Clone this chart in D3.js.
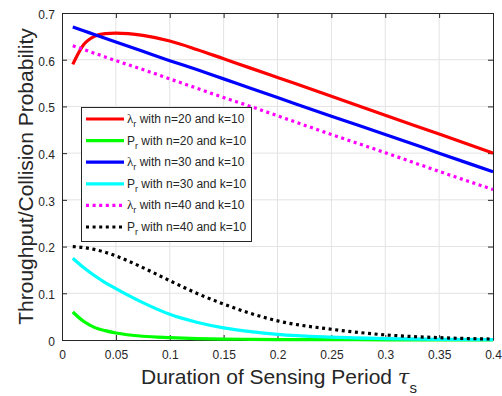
<!DOCTYPE html>
<html><head><meta charset="utf-8">
<script src="https://cdn.jsdelivr.net/npm/d3@7"></script>
<style>body{margin:0;background:#fff}svg{display:block}text{font-family:"Liberation Sans",Arial,sans-serif}</style>
</head><body><svg id="c" width="502" height="396"></svg>
<script>
const tauS = [0.01,0.02,0.03,0.04,0.05,0.075,0.1,0.125,0.15,0.175,0.2,0.25,0.3,0.35,0.4];
const lambdaN20 = [0.590,0.632,0.650,0.656,0.657,0.652,0.640,0.622,0.602,0.582,0.562,0.522,0.481,0.441,0.400];
const pN20 = [0.060,0.040,0.027,0.020,0.015,0.008,0.005,0.003,0.002,0.0015,0.001,0.0006,0.0004,0.0002,0.0001];
const lambdaN30 = [0.670,0.662,0.654,0.646,0.638,0.618,0.598,0.579,0.559,0.539,0.519,0.479,0.440,0.400,0.360];
const pN30 = [0.175,0.155,0.138,0.123,0.110,0.080,0.055,0.038,0.026,0.018,0.012,0.006,0.003,0.0015,0.001];
const lambdaN40 = [0.630,0.622,0.614,0.606,0.598,0.579,0.559,0.539,0.519,0.500,0.480,0.440,0.401,0.361,0.322];
const pN40 = [0.200,0.198,0.194,0.188,0.180,0.155,0.127,0.100,0.077,0.057,0.041,0.023,0.011,0.005,0.002];
const xTicks = [0,0.05,0.1,0.15,0.2,0.25,0.3,0.35,0.4];
const yTicks = [0,0.1,0.2,0.3,0.4,0.5,0.6,0.7];
const seriesNames = ["λ|r| with n=20 and k=10","P|r| with n=20 and k=10","λ|r| with n=30 and k=10","P|r| with n=30 and k=10","λ|r| with n=40 and k=10","P|r| with n=40 and k=10"];
const seriesColors = ["#ff0000","#00ff00","#0000ff","#00ffff","#ff00ff","#000000"];
const seriesDashed = [false,false,false,false,true,true];
const seriesData = [lambdaN20,pN20,lambdaN30,pN30,lambdaN40,pN40];

const svg = d3.select("#c");
const L=62,R=493,T=13,B=340;
const x = d3.scaleLinear().domain([0,0.4]).range([L,R]);
const y = d3.scaleLinear().domain([0,0.7]).range([B,T]);
const axc="#262626";

// grid
const g = svg.append("g");
g.selectAll(".gx").data(xTicks.slice(1,-1)).join("line").attr("x1",d=>x(d)).attr("x2",d=>x(d)).attr("y1",T).attr("y2",B).attr("stroke","#e3e3e3").attr("stroke-width",1);
g.selectAll(".gy").data(yTicks.slice(1,-1)).join("line").attr("y1",d=>y(d)).attr("y2",d=>y(d)).attr("x1",L).attr("x2",R).attr("stroke","#e3e3e3").attr("stroke-width",1);

// axes
const fmt = d=>d===0?"0":String(d);
const ax = svg.append("g").attr("transform",`translate(0,${B})`).call(d3.axisBottom(x).tickValues(xTicks).tickFormat(fmt).tickSizeInner(-5).tickSizeOuter(0).tickPadding(10));
const ay = svg.append("g").attr("transform",`translate(${L},0)`).call(d3.axisLeft(y).tickValues(yTicks).tickFormat(fmt).tickSizeInner(-5).tickSizeOuter(0).tickPadding(7));
const axT = svg.append("g").attr("transform",`translate(0,${T})`).call(d3.axisTop(x).tickValues(xTicks).tickFormat("").tickSizeInner(-5).tickSizeOuter(0));
const ayR = svg.append("g").attr("transform",`translate(${R},0)`).call(d3.axisRight(y).tickValues(yTicks).tickFormat("").tickSizeInner(-5).tickSizeOuter(0));
[ax,ay,axT,ayR].forEach(a=>{a.attr("font-size",12).attr("font-family","'Liberation Sans',Arial,sans-serif");a.selectAll("path").attr("stroke",axc);a.selectAll("line").attr("stroke",axc);a.selectAll("text").attr("fill",axc);});
ay.selectAll("text").attr("dy","0.45em");

// lines
const line = d3.line().x((d,i)=>x(tauS[i])).y(d=>y(d)).curve(d3.curveMonotoneX);
seriesData.forEach((s,i)=>{
  const p=svg.append("path").datum(s).attr("d",line).attr("fill","none").attr("stroke",seriesColors[i]).attr("stroke-width",3.2);
  if(seriesDashed[i]) p.attr("stroke-dasharray","3,3.6");
});

// legend
const lg = svg.append("g");
lg.append("rect").attr("x",81.5).attr("y",107.5).attr("width",170).attr("height",134).attr("fill","#fff").attr("stroke",axc).attr("stroke-width",1);
seriesNames.forEach((n,i)=>{
  const yy=119+i*21.6;
  const l=lg.append("line").attr("x1",86).attr("x2",124).attr("y1",yy).attr("y2",yy).attr("stroke",seriesColors[i]).attr("stroke-width",3.2);
  if(seriesDashed[i]) l.attr("stroke-dasharray","3,3.6");
  const parts=n.split("|");
  const t=lg.append("text").attr("x",127).attr("y",yy+4).attr("fill",axc).style("font-size","12px");
  t.append("tspan").text(parts[0]).style("font-family", parts[0]==="λ"?"'Liberation Serif',serif":null).style("font-size", parts[0]==="λ"?"13px":null);
  t.append("tspan").attr("dy",4).style("font-size","9px").text(parts[1]);
  t.append("tspan").attr("dy",-4).text(parts[2]);
});

// axis labels
svg.append("text").attr("transform",`translate(33,${(T+B)/2}) rotate(-90)`).attr("text-anchor","middle").attr("fill",axc).style("font-size","21px").text("Throughput/Collision Probability");
const xl=svg.append("text").attr("x",279).attr("y",384).attr("text-anchor","middle").attr("fill",axc).style("font-size","21px");
xl.append("tspan").text("Duration of Sensing Period ");
xl.append("tspan").style("font-style","italic").style("font-family","'DejaVu Serif',serif").text("τ");
xl.append("tspan").attr("dy",9).style("font-size","15px").text("s");
</script></body></html>
